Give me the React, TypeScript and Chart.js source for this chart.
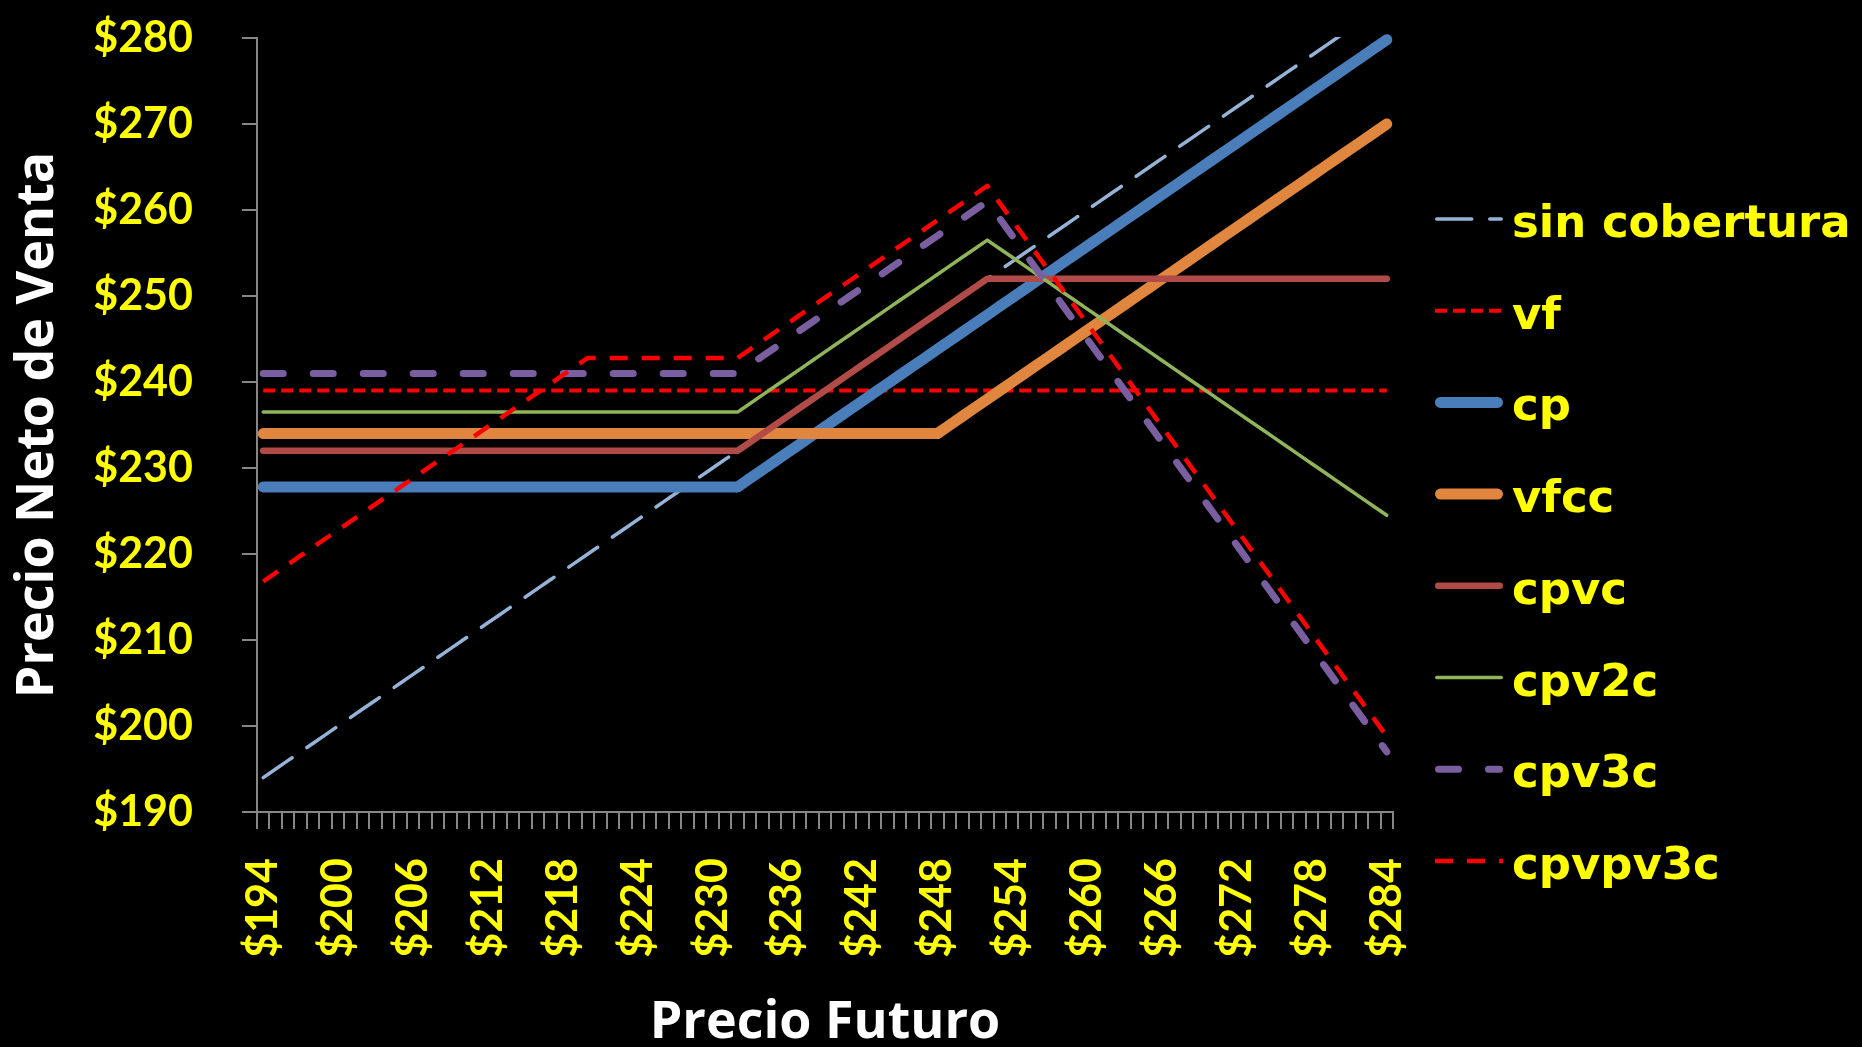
import React, { useEffect, useRef } from "react";
import { Chart, registerables } from "chart.js";

Chart.register(...registerables);

// Categories: Precio Futuro ($)
const precioFuturo = [
  194, 195, 196, 197, 198, 199, 200, 201, 202, 203,
  204, 205, 206, 207, 208, 209, 210, 211, 212, 213,
  214, 215, 216, 217, 218, 219, 220, 221, 222, 223,
  224, 225, 226, 227, 228, 229, 230, 231, 232, 233,
  234, 235, 236, 237, 238, 239, 240, 241, 242, 243,
  244, 245, 246, 247, 248, 249, 250, 251, 252, 253,
  254, 255, 256, 257, 258, 259, 260, 261, 262, 263,
  264, 265, 266, 267, 268, 269, 270, 271, 272, 273,
  274, 275, 276, 277, 278, 279, 280, 281, 282, 283,
  284,
];

const sinCobertura = [
  194, 195, 196, 197, 198, 199, 200, 201, 202, 203,
  204, 205, 206, 207, 208, 209, 210, 211, 212, 213,
  214, 215, 216, 217, 218, 219, 220, 221, 222, 223,
  224, 225, 226, 227, 228, 229, 230, 231, 232, 233,
  234, 235, 236, 237, 238, 239, 240, 241, 242, 243,
  244, 245, 246, 247, 248, 249, 250, 251, 252, 253,
  254, 255, 256, 257, 258, 259, 260, 261, 262, 263,
  264, 265, 266, 267, 268, 269, 270, 271, 272, 273,
  274, 275, 276, 277, 278, 279, 280, 281, 282, 283,
  284,
];

const vf = [
  239, 239, 239, 239, 239, 239, 239, 239, 239, 239,
  239, 239, 239, 239, 239, 239, 239, 239, 239, 239,
  239, 239, 239, 239, 239, 239, 239, 239, 239, 239,
  239, 239, 239, 239, 239, 239, 239, 239, 239, 239,
  239, 239, 239, 239, 239, 239, 239, 239, 239, 239,
  239, 239, 239, 239, 239, 239, 239, 239, 239, 239,
  239, 239, 239, 239, 239, 239, 239, 239, 239, 239,
  239, 239, 239, 239, 239, 239, 239, 239, 239, 239,
  239, 239, 239, 239, 239, 239, 239, 239, 239, 239,
  239,
];

const cp = [
  227.8, 227.8, 227.8, 227.8, 227.8, 227.8, 227.8, 227.8, 227.8, 227.8,
  227.8, 227.8, 227.8, 227.8, 227.8, 227.8, 227.8, 227.8, 227.8, 227.8,
  227.8, 227.8, 227.8, 227.8, 227.8, 227.8, 227.8, 227.8, 227.8, 227.8,
  227.8, 227.8, 227.8, 227.8, 227.8, 227.8, 227.8, 227.8, 227.8, 228.8,
  229.8, 230.8, 231.8, 232.8, 233.8, 234.8, 235.8, 236.8, 237.8, 238.8,
  239.8, 240.8, 241.8, 242.8, 243.8, 244.8, 245.8, 246.8, 247.8, 248.8,
  249.8, 250.8, 251.8, 252.8, 253.8, 254.8, 255.8, 256.8, 257.8, 258.8,
  259.8, 260.8, 261.8, 262.8, 263.8, 264.8, 265.8, 266.8, 267.8, 268.8,
  269.8, 270.8, 271.8, 272.8, 273.8, 274.8, 275.8, 276.8, 277.8, 278.8,
  279.8,
];

const vfcc = [
  234, 234, 234, 234, 234, 234, 234, 234, 234, 234,
  234, 234, 234, 234, 234, 234, 234, 234, 234, 234,
  234, 234, 234, 234, 234, 234, 234, 234, 234, 234,
  234, 234, 234, 234, 234, 234, 234, 234, 234, 234,
  234, 234, 234, 234, 234, 234, 234, 234, 234, 234,
  234, 234, 234, 234, 234, 235, 236, 237, 238, 239,
  240, 241, 242, 243, 244, 245, 246, 247, 248, 249,
  250, 251, 252, 253, 254, 255, 256, 257, 258, 259,
  260, 261, 262, 263, 264, 265, 266, 267, 268, 269,
  270,
];

const cpvc = [
  232, 232, 232, 232, 232, 232, 232, 232, 232, 232,
  232, 232, 232, 232, 232, 232, 232, 232, 232, 232,
  232, 232, 232, 232, 232, 232, 232, 232, 232, 232,
  232, 232, 232, 232, 232, 232, 232, 232, 232, 233,
  234, 235, 236, 237, 238, 239, 240, 241, 242, 243,
  244, 245, 246, 247, 248, 249, 250, 251, 252, 252,
  252, 252, 252, 252, 252, 252, 252, 252, 252, 252,
  252, 252, 252, 252, 252, 252, 252, 252, 252, 252,
  252, 252, 252, 252, 252, 252, 252, 252, 252, 252,
  252,
];

const cpv2c = [
  236.5, 236.5, 236.5, 236.5, 236.5, 236.5, 236.5, 236.5, 236.5, 236.5,
  236.5, 236.5, 236.5, 236.5, 236.5, 236.5, 236.5, 236.5, 236.5, 236.5,
  236.5, 236.5, 236.5, 236.5, 236.5, 236.5, 236.5, 236.5, 236.5, 236.5,
  236.5, 236.5, 236.5, 236.5, 236.5, 236.5, 236.5, 236.5, 236.5, 237.5,
  238.5, 239.5, 240.5, 241.5, 242.5, 243.5, 244.5, 245.5, 246.5, 247.5,
  248.5, 249.5, 250.5, 251.5, 252.5, 253.5, 254.5, 255.5, 256.5, 255.5,
  254.5, 253.5, 252.5, 251.5, 250.5, 249.5, 248.5, 247.5, 246.5, 245.5,
  244.5, 243.5, 242.5, 241.5, 240.5, 239.5, 238.5, 237.5, 236.5, 235.5,
  234.5, 233.5, 232.5, 231.5, 230.5, 229.5, 228.5, 227.5, 226.5, 225.5,
  224.5,
];

const cpv3c = [
  241, 241, 241, 241, 241, 241, 241, 241, 241, 241,
  241, 241, 241, 241, 241, 241, 241, 241, 241, 241,
  241, 241, 241, 241, 241, 241, 241, 241, 241, 241,
  241, 241, 241, 241, 241, 241, 241, 241, 241, 242,
  243, 244, 245, 246, 247, 248, 249, 250, 251, 252,
  253, 254, 255, 256, 257, 258, 259, 260, 261, 259,
  257, 255, 253, 251, 249, 247, 245, 243, 241, 239,
  237, 235, 233, 231, 229, 227, 225, 223, 221, 219,
  217, 215, 213, 211, 209, 207, 205, 203, 201, 199,
  197,
];

const cpvpv3c = [
  216.8, 217.8, 218.8, 219.8, 220.8, 221.8, 222.8, 223.8, 224.8, 225.8,
  226.8, 227.8, 228.8, 229.8, 230.8, 231.8, 232.8, 233.8, 234.8, 235.8,
  236.8, 237.8, 238.8, 239.8, 240.8, 241.8, 242.8, 242.8, 242.8, 242.8,
  242.8, 242.8, 242.8, 242.8, 242.8, 242.8, 242.8, 242.8, 242.8, 243.8,
  244.8, 245.8, 246.8, 247.8, 248.8, 249.8, 250.8, 251.8, 252.8, 253.8,
  254.8, 255.8, 256.8, 257.8, 258.8, 259.8, 260.8, 261.8, 262.8, 260.8,
  258.8, 256.8, 254.8, 252.8, 250.8, 248.8, 246.8, 244.8, 242.8, 240.8,
  238.8, 236.8, 234.8, 232.8, 230.8, 228.8, 226.8, 224.8, 222.8, 220.8,
  218.8, 216.8, 214.8, 212.8, 210.8, 208.8, 206.8, 204.8, 202.8, 200.8,
  198.8,
];

const yTicks = [190, 200, 210, 220, 230, 240, 250, 260, 270, 280];

const sideLegend = {
  id: "sideLegend",
  afterDraw(chart: any) {
    const ctx = chart.ctx;
    const area = chart.chartArea;
    const x0 = area.right + 42;
    const lineLen = 68;
    const textX = x0 + lineLen + 9;
    const y0 = 219;
    const pitch = 91.7;
    ctx.save();
    chart.data.datasets.forEach((ds: any, i: number) => {
      const y = y0 + i * pitch;
      ctx.beginPath();
      ctx.strokeStyle = ds.borderColor;
      ctx.lineWidth = ds.borderWidth;
      ctx.lineCap = ds.borderCapStyle || "butt";
      ctx.setLineDash(ds.borderDash || []);
      const inset = ds.borderCapStyle === "round" ? ds.borderWidth / 2 : 0;
      ctx.moveTo(x0 + inset, y);
      ctx.lineTo(x0 + lineLen - inset, y);
      ctx.stroke();
      ctx.setLineDash([]);
      ctx.fillStyle = "#FFFF00";
      ctx.font = 'bold 45px "DejaVu Sans"';
      ctx.textBaseline = "alphabetic";
      ctx.textAlign = "left";
      ctx.fillText(ds.label, textX, y + 18);
    });
    ctx.restore();
  },
};

export default function App() {
  const ref = useRef<HTMLCanvasElement | null>(null);

  useEffect(() => {
    if (!ref.current) return;
    const tickFont = { family: "Lato", size: 43, weight: "bold" as const };
    const chart = new Chart(ref.current, {
      type: "line",
      data: {
        labels: precioFuturo.map(String),
        datasets: [
          { label: "sin cobertura", data: sinCobertura, borderColor: "#95B3D7", borderWidth: 3.5, borderDash: [35, 18], borderCapStyle: "round", order: 7, clip: 1 } as any,
          { label: "vf", data: vf, borderColor: "#FF0000", borderWidth: 4, borderDash: [12, 6], borderCapStyle: "butt", order: 6 },
          { label: "cp", data: cp, borderColor: "#4A7EBB", borderWidth: 11, borderCapStyle: "round", order: 5, clip: 8 } as any,
          { label: "vfcc", data: vfcc, borderColor: "#E0863E", borderWidth: 11, borderCapStyle: "round", order: 4, clip: 8 } as any,
          { label: "cpvc", data: cpvc, borderColor: "#B04B48", borderWidth: 6.5, borderCapStyle: "round", order: 3 },
          { label: "cpv2c", data: cpv2c, borderColor: "#8FB459", borderWidth: 3.5, borderCapStyle: "round", order: 2 },
          { label: "cpv3c", data: cpv3c, borderColor: "#7A5FA0", borderWidth: 7, borderDash: [20, 30], borderCapStyle: "round", order: 1 },
          { label: "cpvpv3c", data: cpvpv3c, borderColor: "#FF0000", borderWidth: 4.5, borderDash: [18, 14], borderCapStyle: "butt", order: 0 },
        ],
      },
      options: {
        animation: false,
        responsive: false,
        devicePixelRatio: 1,
        layout: { padding: { top: 38, right: 469, bottom: 0, left: 0 } },
        plugins: { legend: { display: false }, tooltip: { enabled: false } },
        elements: {
          point: { radius: 0, hoverRadius: 0 },
          line: { tension: 0, borderJoinStyle: "round" },
        },
        scales: {
          x: {
            type: "category",
            offset: true,
            grid: {
              display: true,
              drawOnChartArea: false,
              drawTicks: true,
              tickLength: 17,
              color: "#868686",
              lineWidth: 2,
              offset: true,
            },
            border: { display: true, color: "#868686", width: 2 },
            ticks: {
              autoSkip: false,
              minRotation: 90,
              maxRotation: 90,
              padding: 29,
              color: "#FFFF00",
              font: tickFont,
              callback: (_v: any, i: number) => (i % 6 === 0 ? "$" + precioFuturo[i] : ""),
            },
            title: {
              display: true,
              text: "Precio Futuro",
              color: "#FFFFFF",
              font: { family: "Open Sans", size: 52, weight: "bold", lineHeight: 0.9 },
              padding: 0,
            },
            afterFit: (s: any) => {
              s.height = 235;
              s.paddingLeft = 0;
              s.paddingRight = 0;
            },
          } as any,
          y: {
            min: yTicks[0],
            max: yTicks[yTicks.length - 1],
            afterBuildTicks: (s: any) => {
              s.ticks = yTicks.map((v) => ({ value: v }));
            },
            ticks: {
              padding: 49,
              color: "#FFFF00",
              font: tickFont,
              callback: (v: any) => "$" + v,
            },
            grid: {
              display: true,
              drawOnChartArea: false,
              drawTicks: true,
              tickLength: 15,
              color: "#868686",
              lineWidth: 2,
            },
            border: { display: true, color: "#868686", width: 2 },
            title: {
              display: true,
              text: "Precio Neto de Venta",
              color: "#FFFFFF",
              font: { family: "Open Sans", size: 52, weight: "bold", lineHeight: 1.2 },
              padding: { top: 7, bottom: 0 },
            },
            afterFit: (s: any) => {
              s.width = 257;
              s.paddingTop = 0;
              s.paddingBottom = 0;
            },
          } as any,
        },
      },
      plugins: [sideLegend],
    });
    return () => chart.destroy();
  }, []);

  return (
    <div
      style={{
        position: "fixed",
        left: 0,
        top: 0,
        width: 1862,
        height: 1047,
        background: "#000000",
      }}
    >
      <canvas ref={ref} width={1862} height={1047} style={{ display: "block", width: 1862, height: 1047 }} />
    </div>
  );
}
